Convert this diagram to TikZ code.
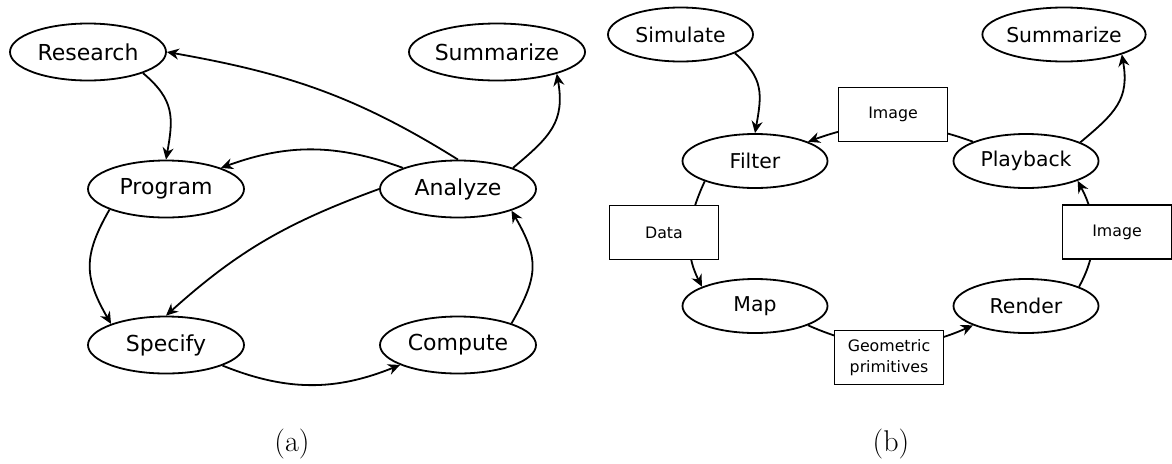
\documentclass[tikz,border=0pt]{standalone}
\usepackage{fontspec}
\newfontfamily\dejavu{DejaVu Sans}
\usetikzlibrary{shapes.geometric,arrows.meta}
\begin{document}
\begin{tikzpicture}[x=0.5pt,y=0.5pt,
  big/.style={ellipse,draw,line width=0.9pt,minimum width=78pt,minimum height=28.5pt,inner sep=0pt,font=\dejavu\fontsize{11}{13}\selectfont},
  small/.style={ellipse,draw,line width=0.9pt,minimum width=72.5pt,minimum height=27pt,inner sep=0pt,font=\dejavu\fontsize{10.2}{12}\selectfont},
  lbl/.style={rectangle,draw,fill=white,line width=0.9pt,minimum width=54.5pt,minimum height=27pt,inner sep=0pt,align=center,font=\dejavu\fontsize{7.9}{10.3}\selectfont},
  arr/.style={line width=0.9pt,-{Stealth[length=6pt,width=5.5pt]}},
  sublabel/.style={font=\fontsize{15}{18}\selectfont}]
\useasboundingbox (0,0) rectangle (1172,463);
% panel (a)
\node[big] (R) at (88,411) {Research};
\node[big] (P) at (166,274) {Program};
\node[big] (A) at (458,274) {Analyze};
\node[big] (Sa) at (497,411) {Summarize};
\node[big] (S) at (166,118) {Specify};
\node[big] (C) at (458,118) {Compute};
\draw[arr] (R.-21) to[out=-40,in=80,looseness=1.2] (P.north);
\draw[arr] (A.north) to[out=148,in=-10] (R.east);
\draw[arr] (A.159) to[out=160,in=20] (P.21);
\draw[arr] (A.west) to[out=200,in=42] (S.north);
\draw[arr] (P.200) to[out=240,in=120,looseness=1.2] (S.159);
\draw[arr] (S.-20) to[out=-22,in=-158] (C.199);
\draw[arr] (C.22) to[out=60,in=-60,looseness=1.25] (A.-22);
\draw[arr] (A.21) to[out=40,in=-80,looseness=1.2] (Sa.-20);
\node[sublabel] (la) at (292,19) {(a)};
% panel (b)
\node[small] (Sim) at (680.5,428.5) {Simulate};
\node[small] (F) at (755,302) {Filter};
\node[small] (Pb) at (1026,302) {Playback};
\node[small] (Sb) at (1064,428.5) {Summarize};
\node[small] (M) at (755,157) {Map};
\node[small] (Re) at (1026,157) {Render};
\draw[arr] (Sim.-19) to[out=-40,in=80,looseness=1.2] (F.north);
\draw[arr] (Pb.160) to[out=160,in=20] (F.20);
\draw[arr] (F.202) to[out=245,in=117] (M.160);
\draw[arr] (M.-20) to[out=-24,in=-156] (Re.200);
\draw[arr] (Re.20) to[out=61,in=-62] (Pb.-21);
\draw[arr] (Pb.19) to[out=40,in=-80,looseness=1.2] (Sb.-19);
\node[lbl] (imgT) at (893,348.5) {Image};
\node[lbl] (data) at (664,230.5) {Data};
\node[lbl] (geo) at (889,105.5) {Geometric\\primitives};
\node[lbl] (imgR) at (1117,231) {Image};
\node[sublabel] (lb) at (891,19) {(b)};
\end{tikzpicture}
\end{document}
